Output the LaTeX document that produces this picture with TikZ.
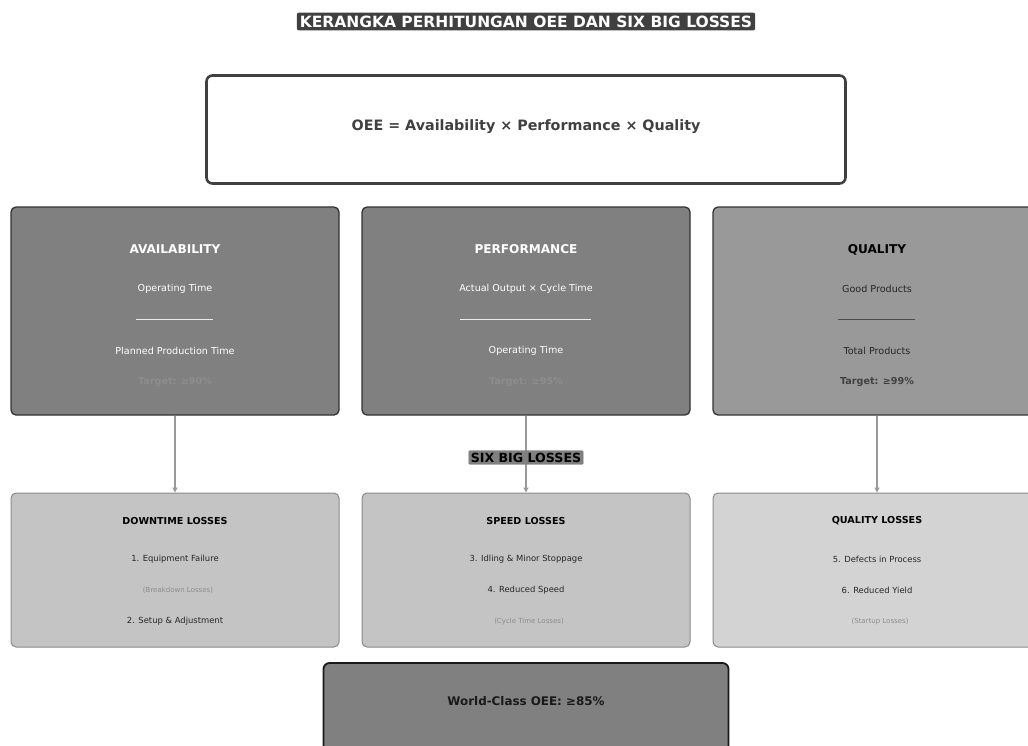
\documentclass[tikz,border=0pt]{standalone}
\usepackage{fontspec}
\setmainfont{DejaVu Sans}
\usetikzlibrary{arrows.meta}
\definecolor{dark}{HTML}{404040}
\definecolor{midg}{HTML}{808080}
\definecolor{qualg}{HTML}{999999}
\definecolor{lossg}{HTML}{C4C4C4}
\definecolor{lossq}{HTML}{D3D3D3}
\definecolor{edgeg}{HTML}{8A8A8A}
\tikzset{
  metric/.style={draw=black!80, line width=1.3pt, rounded corners=5pt, minimum width=328pt, minimum height=208pt, inner sep=0pt},
  loss/.style={draw=edgeg, line width=1pt, rounded corners=5pt, fill=lossg, minimum width=328pt, minimum height=154pt, inner sep=0pt},
  flow/.style={draw=qualg, line width=1.6pt, -{Triangle[length=5pt,width=5pt]}},
  txt/.style={inner sep=0pt, anchor=center},
}
\newcommand{\fsz}[1]{\fontsize{#1}{#1}\selectfont}
\begin{document}
\begin{tikzpicture}[x=1pt,y=-1pt]
\useasboundingbox (0,0) rectangle (1028,745);
\clip (0,0) rectangle (1028,745);
% title
\node[fill=dark, text=white, rounded corners=2pt, inner xsep=3pt, inner ysep=3pt] (title) at (526,21.5) {\fsz{15.5}\bfseries KERANGKA PERHITUNGAN OEE DAN SIX BIG LOSSES};
% OEE box
\node[draw=dark, line width=2.6pt, rounded corners=6pt, fill=white, minimum width=639pt, minimum height=108pt, text=dark] (oee) at (526,129.5) {};
\node[txt, text=dark] (oeet) at (526,126.5) {\fsz{14.3}\bfseries OEE = Availability × Performance × Quality};
% metric boxes
\node[metric, fill=midg] (avail) at (175,311) {};
\node[metric, fill=midg] (perf) at (526,311) {};
\node[metric, fill=qualg] (qual) at (877,311) {};
% availability texts
\node[txt, text=white] (at) at (175,249.5) {\fsz{12.1}\bfseries AVAILABILITY};
\node[txt, text=white] (an) at (175,289) {\fsz{9.6}Operating Time};
\draw[white!85!midg, line width=0.8pt] (136,319) -- (213,319);
\node[txt, text=white] (ad) at (175,351) {\fsz{9.6}Planned Production Time};
\node[txt, text=white!10!midg] (ag) at (175,381.5) {\fsz{9.6}\bfseries Target: ≥90\%};
% performance texts
\node[txt, text=white] (pt) at (526,249.5) {\fsz{12.1}\bfseries PERFORMANCE};
\node[txt, text=white] (pn) at (526,289) {\fsz{9.6}Actual Output × Cycle Time};
\draw[white!85!midg, line width=0.8pt] (460,319) -- (591,319);
\node[txt, text=white] (pd) at (526,351) {\fsz{9.6}Operating Time};
\node[txt, text=white!10!midg] (pg) at (526,381.5) {\fsz{9.6}\bfseries Target: ≥95\%};
% quality texts
\node[txt, text=black] (qt) at (877,249.5) {\fsz{12.1}\bfseries QUALITY};
\node[txt, text=black!85] (qn) at (877,289) {\fsz{9.6}Good Products};
\draw[black!70, line width=0.8pt] (838,319) -- (915,319);
\node[txt, text=black!85] (qd) at (877,351) {\fsz{9.6}Total Products};
\node[txt, text=dark] (qg) at (877,381.5) {\fsz{9.6}\bfseries Target: ≥99\%};
% loss boxes
\node[loss] (down) at (175,570) {};
\node[loss] (speed) at (526,570) {};
\node[loss, fill=lossq] (qloss) at (877,570) {};
% arrows
\draw[flow] (avail.south) -- (down.north);
\draw[flow] (perf.south) -- (speed.north);
\draw[flow] (qual.south) -- (qloss.north);
% six big losses label
\node[fill=midg, draw=midg!90!black, line width=0.4pt, rounded corners=1pt, inner xsep=2pt, inner ysep=2pt] (six) at (526,457.5) {\fsz{12.6}\bfseries SIX BIG LOSSES};
% downtime
\node[txt] (dt) at (175,520.5) {\fsz{9.6}\bfseries DOWNTIME LOSSES};
\node[txt, text=black!85] (d1) at (175,559.5) {\fsz{8.4}1. Equipment Failure};
\node[txt, text=black!45] (d2) at (178,590.5) {\fsz{7}(Breakdown Losses)};
\node[txt, text=black!85] (d3) at (175,621.5) {\fsz{8.4}2. Setup \& Adjustment};
% speed
\node[txt] (st) at (526,520.5) {\fsz{9.6}\bfseries SPEED LOSSES};
\node[txt, text=black!85] (s1) at (526,559.5) {\fsz{8.4}3. Idling \& Minor Stoppage};
\node[txt, text=black!85] (s2) at (526,590.5) {\fsz{8.4}4. Reduced Speed};
\node[txt, text=black!45] (s3) at (529,621.5) {\fsz{7}(Cycle Time Losses)};
% quality losses
\node[txt] (qlt) at (877,520.5) {\fsz{9.6}\bfseries QUALITY LOSSES};
\node[txt, text=black!85] (q1) at (877,559.5) {\fsz{8.4}5. Defects in Process};
\node[txt, text=black!85] (q2) at (877,590.5) {\fsz{8.4}6. Reduced Yield};
\node[txt, text=black!45] (q3) at (880,621.5) {\fsz{7}(Startup Losses)};
% world class
\node[draw=black!90, line width=1.8pt, rounded corners=6pt, fill=midg, minimum width=405pt, minimum height=110pt, inner sep=0pt] (wc) at (526,718) {};
\node[txt, text=black!90] (wct) at (526,701.5) {\fsz{11.9}\bfseries World-Class OEE: ≥85\%};
\end{tikzpicture}
\end{document}
